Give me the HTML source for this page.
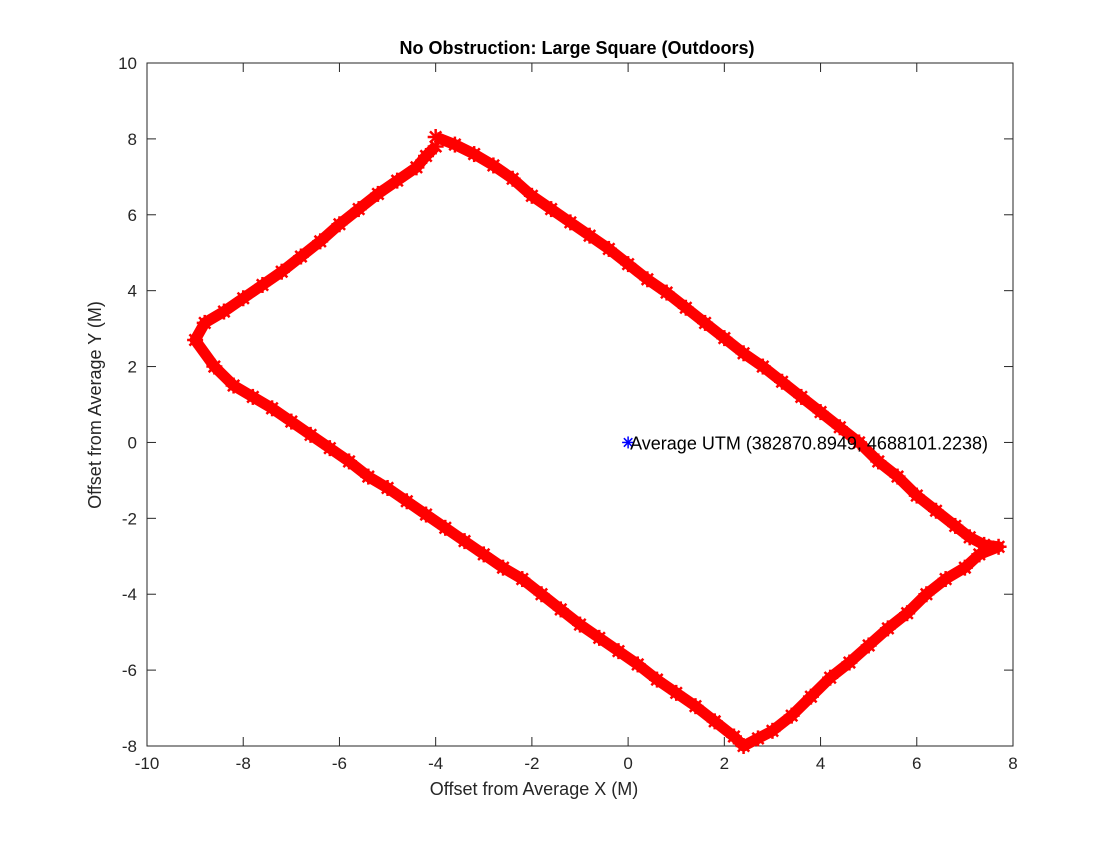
<!DOCTYPE html>
<html><head><meta charset="utf-8"><style>
body{margin:0;background:#fff;}
svg text{font-family:"Liberation Sans",Arial,sans-serif;}
</style></head><body>
<svg id="chart" width="1120" height="840" xmlns="http://www.w3.org/2000/svg">
<rect width="1120" height="840" fill="#fff"/>
<g id="axes"></g>
<g id="data"></g>
</svg>
<script>
const xTicks=[-10,-8,-6,-4,-2,0,2,4,6,8];
const yTicks=[10,8,6,4,2,0,-2,-4,-6,-8];
const pathX=[-4,-3.6,-3.2,-2.8,-2.4,-2,-1.6,-1.2,-0.8,-0.4,0,0.4,0.8,1.2,1.6,2,2.4,2.8,3.2,3.6,4,4.4,4.8,5.2,5.6,6,6.4,6.8,7.1,7.4,7.7,7.3,7,6.6,6.2,5.8,5.4,5,4.6,4.2,3.8,3.4,3,2.7,2.4,2.2,1.8,1.4,1,0.6,0.2,-0.2,-0.6,-1,-1.4,-1.8,-2.2,-2.6,-3,-3.4,-3.8,-4.2,-4.6,-5,-5.4,-5.8,-6.2,-6.6,-7,-7.4,-7.8,-8.2,-8.6,-9,-8.8,-8.4,-8,-7.6,-7.2,-6.8,-6.4,-6,-5.6,-5.2,-4.8,-4.4,-4.2,-4];
const pathY=[8.05,7.85,7.6,7.3,6.95,6.5,6.15,5.8,5.45,5.1,4.7,4.3,3.95,3.55,3.15,2.75,2.35,2.0,1.6,1.2,0.8,0.4,0.0,-0.5,-0.9,-1.4,-1.8,-2.2,-2.5,-2.7,-2.75,-2.95,-3.3,-3.6,-4.0,-4.5,-4.9,-5.35,-5.8,-6.2,-6.7,-7.2,-7.6,-7.8,-8.0,-7.75,-7.35,-6.95,-6.6,-6.25,-5.85,-5.5,-5.15,-4.8,-4.4,-4.0,-3.6,-3.3,-2.95,-2.6,-2.25,-1.9,-1.55,-1.2,-0.9,-0.5,-0.15,0.2,0.55,0.9,1.2,1.5,2.0,2.7,3.15,3.45,3.8,4.15,4.5,4.9,5.3,5.75,6.15,6.55,6.9,7.25,7.55,7.8,8.0];
const avgX=[0], avgY=[0];
const L=147,R=1013,T=63,B=746;
const sx=v=>L+(v+10)/18*(R-L);
const sy=v=>T+(10-v)/18*(B-T);
const NS="http://www.w3.org/2000/svg";
function mk(tag,attrs,parent){const e=document.createElementNS(NS,tag);for(const k in attrs)e.setAttribute(k,attrs[k]);parent.appendChild(e);return e;}
const ax=document.getElementById('axes'), dg=document.getElementById('data');
const frame=mk('rect',{x:L,y:T,width:R-L,height:B-T,fill:'none',stroke:'#262626','stroke-width':1},ax);


xTicks.forEach(t=>{const x=sx(t);
 mk('line',{x1:x,y1:B,x2:x,y2:B-9,stroke:'#262626'},ax);
 mk('line',{x1:x,y1:T,x2:x,y2:T+9,stroke:'#262626'},ax);
 const tx=mk('text',{x:x,y:B+23,'text-anchor':'middle','font-size':17,fill:'#262626'},ax);tx.textContent=t;
 
 
});
yTicks.forEach(t=>{const y=sy(t);
 mk('line',{x1:L,y1:y,x2:L+9,y2:y,stroke:'#262626'},ax);
 mk('line',{x1:R,y1:y,x2:R-9,y2:y,stroke:'#262626'},ax);
 const tx=mk('text',{x:L-10,y:y+6,'text-anchor':'end','font-size':17,fill:'#262626'},ax);tx.textContent=t;
 
 
});
const title=mk('text',{x:(L+R)/2-3,y:54,'text-anchor':'middle','font-size':18,'font-weight':'bold',fill:'#000'},ax);
title.textContent='No Obstruction: Large Square (Outdoors)';


const xl=mk('text',{x:(L+R)/2-46,y:795,'text-anchor':'middle','font-size':18,fill:'#262626'},ax);
xl.textContent='Offset from Average X (M)';


const yl=mk('text',{x:0,y:0,'text-anchor':'middle','font-size':18,fill:'#262626',transform:'translate(101,405) rotate(-90)'},ax);
yl.textContent='Offset from Average Y (M)';


const pts=pathX.map((v,i)=>sx(v)+','+sy(pathY[i])).join(' ');
const line=mk('polyline',{points:pts,fill:'none',stroke:'#ff0000','stroke-width':11,'stroke-linejoin':'round'},dg);


function star(cx,cy,r,col,w,parent){const g=mk('g',{},parent);
 for(let a=0;a<4;a++){const ang=a*Math.PI/4;mk('line',{x1:cx-r*Math.cos(ang),y1:cy-r*Math.sin(ang),x2:cx+r*Math.cos(ang),y2:cy+r*Math.sin(ang),stroke:col,'stroke-width':w},g);}return g;}
pathX.forEach((v,i)=>{const g=star(sx(v),sy(pathY[i]),8,'#ff0000',2.5,dg);
 
 
});
avgX.forEach((v,i)=>{const g=star(sx(v),sy(avgY[i]),6,'#0000ff',1.5,dg);
 
 
 const t=mk('text',{x:sx(v)+2,y:sy(avgY[i])+7,'font-size':18,fill:'#000'},dg);
 t.textContent='Average UTM (382870.8949, 4688101.2238)';
 
 
});
</script>
</body></html>
